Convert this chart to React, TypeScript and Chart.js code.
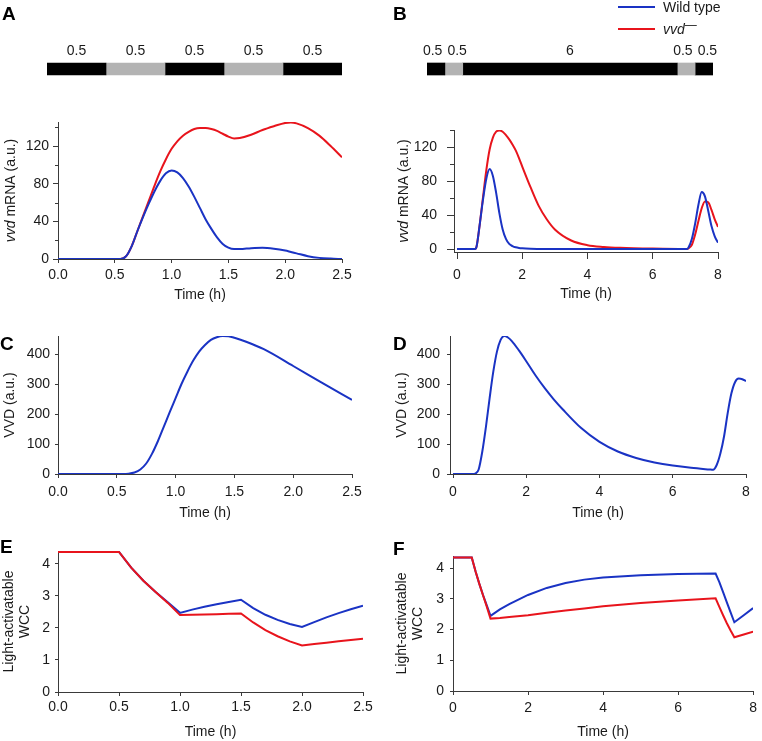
import React, { useEffect, useRef } from 'react';
import { Chart, registerables } from 'chart.js';

Chart.register(...registerables);

const FONT_FAMILY = '"Liberation Sans", Arial, Helvetica, sans-serif';
const BLUE = '#1a33c4';
const RED = '#e8141c';
const AXIS = '#3a3a3a';
const TEXT = '#1a1a1a';
const DARK = '#000000';
const LIGHT = '#b3b3b3';

// ---------- legend / labels ----------
const seriesNames = ['Wild type', 'vvd'];
const xTitle = 'Time (h)';
const panelLetters = ['A', 'B', 'C', 'D', 'E', 'F'];

// ---------- light schedules (hours) ----------
const scheduleADurations = [0.5, 0.5, 0.5, 0.5, 0.5];
const scheduleAPhases = ['dark', 'light', 'dark', 'light', 'dark'];
const scheduleBDurations = [0.5, 0.5, 6, 0.5, 0.5];
const scheduleBPhases = ['dark', 'light', 'dark', 'light', 'dark'];

// ---------- tick labels ----------
const xTicksShort = [0, 0.5, 1, 1.5, 2, 2.5];
const xTicksLong = [0, 2, 4, 6, 8];
const yTicksMrna = [0, 40, 80, 120];
const yMinorMrna = [20, 60, 100, 140];
const yTicksVvd = [0, 100, 200, 300, 400];
const yTicksWcc = [0, 1, 2, 3, 4];

// ---------- Panel A: vvd mRNA, 0.5 h pulses ----------
const timeA = [0, 0.5, 0.55, 0.6, 0.65, 0.7, 0.75, 0.8, 0.85, 0.9, 0.95, 1.0, 1.05, 1.1, 1.15, 1.2, 1.25, 1.3, 1.35, 1.4, 1.45, 1.5, 1.55, 1.6, 1.7, 1.8, 1.9, 2.0, 2.05, 2.1, 2.2, 2.3, 2.4, 2.5];
const mrnaWtA = [0, 0, 0, 3, 14, 30, 45, 59, 72, 83, 91, 94, 92, 86, 77, 66, 54, 42, 32, 23, 16, 12, 10.5, 10.5, 11.5, 12, 11, 9, 7.5, 6, 3, 1.2, 0.4, 0];
const mrnaVvdA = [0, 0, 0, 3, 14, 30, 46, 62, 78, 93, 106, 117, 125, 131, 135, 138, 139, 139, 138, 136, 133, 130, 128, 128.5, 132, 137, 141, 144.5, 145, 144, 139, 131, 120, 108];

// ---------- Panel B: vvd mRNA, long dark ----------
const timeB = [0, 0.5, 0.55, 0.6, 0.7, 0.8, 0.9, 1.0, 1.1, 1.2, 1.3, 1.4, 1.5, 1.6, 1.7, 1.8, 1.9, 2.0, 2.25, 2.5, 2.75, 3.0, 3.5, 4.0, 4.5, 5.0, 6.0, 7.0, 7.05, 7.1, 7.2, 7.3, 7.4, 7.5, 7.6, 7.7, 7.8, 7.9, 8.0];
const mrnaWtB = [0, 0, 0, 3, 30, 59, 83, 94, 86, 66, 42, 23, 12, 6, 3.5, 2, 1.2, 0.8, 0.3, 0.1, 0, 0, 0, 0, 0, 0, 0, 0, 0, 2, 12, 30, 52, 67, 62, 45, 27, 15, 7.5];
const mrnaVvdB = [0, 0, 0, 3, 30, 62, 93, 117, 131, 138, 139.5, 138, 134, 129, 123, 116, 107, 97, 73, 51, 35, 23, 10, 4.5, 2.5, 1.5, 0.5, 0, 0, 1, 5, 17, 33, 48, 56, 55, 46, 35, 26];

// ---------- Panel C: VVD protein ----------
const timeC = [0, 0.5, 0.55, 0.6, 0.65, 0.7, 0.75, 0.8, 0.85, 0.9, 0.95, 1.0, 1.05, 1.1, 1.15, 1.2, 1.25, 1.3, 1.35, 1.4, 1.45, 1.5, 1.6, 1.75, 2.0, 2.25, 2.5];
const vvdC = [0, 0, 0, 1, 5, 15, 35, 68, 110, 158, 206, 253, 300, 341, 378, 408, 430, 447, 456, 460, 459, 454, 441, 416, 360, 303, 247];

// ---------- Panel D: VVD protein ----------
const timeD = [0, 0.5, 0.55, 0.6, 0.7, 0.8, 0.9, 1.0, 1.1, 1.2, 1.3, 1.4, 1.5, 1.6, 1.8, 2.0, 2.25, 2.5, 2.75, 3.0, 3.5, 4.0, 4.5, 5.0, 5.5, 6.0, 6.5, 7.0, 7.1, 7.2, 7.3, 7.4, 7.5, 7.6, 7.7, 7.8, 7.9, 8.0];
const vvdD = [0, 0, 0, 1, 15, 75, 158, 253, 341, 408, 447, 460, 455, 444, 412, 376, 329, 287, 249, 215, 153, 107, 75, 53.5, 38.5, 28, 20.5, 15, 14, 30, 68, 125, 203, 268, 306, 318, 316, 310];

// ---------- Panel E: light-activatable WCC ----------
const timeE = [0, 0.5, 0.6, 0.7, 0.8, 0.9, 1.0, 1.1, 1.2, 1.3, 1.4, 1.5, 1.6, 1.7, 1.8, 1.9, 2.0, 2.1, 2.2, 2.3, 2.4, 2.5];
const wccWtE = [4.37, 4.37, 3.88, 3.47, 3.12, 2.8, 2.47, 2.57, 2.66, 2.74, 2.81, 2.88, 2.62, 2.41, 2.25, 2.12, 2.03, 2.18, 2.33, 2.46, 2.58, 2.69];
const wccVvdE = [4.37, 4.37, 3.88, 3.47, 3.12, 2.78, 2.4, 2.41, 2.42, 2.43, 2.44, 2.45, 2.17, 1.93, 1.74, 1.58, 1.45, 1.5, 1.54, 1.58, 1.62, 1.66];

// ---------- Panel F: light-activatable WCC ----------
const timeF = [0, 0.5, 0.6, 0.7, 0.8, 0.9, 1.0, 1.25, 1.5, 2.0, 2.5, 3.0, 3.5, 4.0, 5.0, 6.0, 7.0, 7.1, 7.2, 7.3, 7.4, 7.5, 7.75, 8.0];
const wccWtF = [4.35, 4.35, 3.9, 3.5, 3.13, 2.79, 2.45, 2.66, 2.83, 3.13, 3.36, 3.52, 3.63, 3.7, 3.77, 3.81, 3.83, 3.55, 3.22, 2.89, 2.56, 2.24, 2.47, 2.7];
const wccVvdF = [4.35, 4.35, 3.9, 3.5, 3.12, 2.75, 2.36, 2.38, 2.41, 2.47, 2.55, 2.62, 2.69, 2.76, 2.87, 2.95, 3.02, 2.74, 2.47, 2.21, 1.97, 1.75, 1.84, 1.93];

// ---------- helpers ----------
type Seg = { text: string; italic?: boolean; sup?: boolean };
type Rect = { left: number; top: number; width: number; height: number };

function fontStr(size: number, italic = false, bold = false) {
  return `${italic ? 'italic ' : ''}${bold ? 'bold ' : ''}${size}px ${FONT_FAMILY}`;
}

function drawRich(ctx: CanvasRenderingContext2D, segs: Seg[], x: number, y: number, size: number, align: 'left' | 'center') {
  let total = 0;
  for (const s of segs) {
    ctx.font = fontStr(s.sup ? size - 2 : size, !!s.italic);
    total += ctx.measureText(s.text).width;
  }
  let cx = align === 'center' ? x - total / 2 : x;
  ctx.textAlign = 'left';
  for (const s of segs) {
    ctx.font = fontStr(s.sup ? size - 2 : size, !!s.italic);
    ctx.fillText(s.text, cx, y + (s.sup ? -4 : 0));
    cx += ctx.measureText(s.text).width;
  }
}

const mrnaTitle: Seg[][] = [[{ text: seriesNames[1], italic: true }, { text: ' mRNA (a.u.)' }]];
const vvdTitle: Seg[][] = [[{ text: 'VVD (a.u.)' }]];
const wccTitle: Seg[][] = [[{ text: 'Light-activatable' }], [{ text: 'WCC' }]];

interface PanelSpec {
  rect: Rect;
  area: { l: number; t: number; r: number; b: number };
  xRange: [number, number];
  yRange: [number, number];
  xTicks: number[];
  yTicks: number[];
  yMinor?: number[];
  yMinorLen?: number;
  xDecimals: number;
  series: { x: number[]; y: number[]; color: string }[];
  smooth: boolean;
  yTitle: Seg[][];
  yTitleOffsets: number[];
  xTitleOffset: number;
  letter: { text: string; x: number; y: number };
  xTick: { len: number; pad: number };
  yTick: { len: number; pad: number };
}

function lineConfig(p: PanelSpec): any {
  const yAxisW = p.area.l - p.rect.left;
  const padTop = p.area.t - p.rect.top;
  const padRight = p.rect.left + p.rect.width - p.area.r;
  const xAxisH = p.rect.top + p.rect.height - p.area.b;
  const decor = {
    id: 'decor',
    afterDraw(chart: any) {
      const ctx: CanvasRenderingContext2D = chart.ctx;
      const ca = chart.chartArea;
      ctx.save();
      if (p.yMinor) {
        ctx.strokeStyle = AXIS;
        ctx.lineWidth = 1;
        ctx.beginPath();
        for (const v of p.yMinor) {
          const y = Math.round(chart.scales.y.getPixelForValue(v)) + 0.5;
          ctx.moveTo(ca.left - (p.yMinorLen || 3), y);
          ctx.lineTo(ca.left, y);
        }
        ctx.stroke();
      }
      ctx.fillStyle = TEXT;
      ctx.textBaseline = 'middle';
      const cy = (ca.top + ca.bottom) / 2;
      p.yTitle.forEach((line, i) => {
        ctx.save();
        ctx.translate(ca.left - p.yTitleOffsets[i], cy);
        ctx.rotate(-Math.PI / 2);
        drawRich(ctx, line, 0, 0, 14, 'center');
        ctx.restore();
      });
      ctx.font = fontStr(14);
      ctx.textAlign = 'center';
      ctx.fillText(xTitle, (ca.left + ca.right) / 2, ca.bottom + p.xTitleOffset);
      ctx.font = fontStr(19, false, true);
      ctx.textAlign = 'left';
      ctx.textBaseline = 'alphabetic';
      ctx.fillStyle = '#000';
      ctx.fillText(p.letter.text, p.letter.x - p.rect.left, p.letter.y - p.rect.top);
      ctx.restore();
    },
  };
  return {
    type: 'line',
    data: {
      datasets: p.series.map((s) => ({
        data: s.x.map((x, i) => ({ x, y: s.y[i] })),
        borderColor: s.color,
        borderWidth: 2,
        pointRadius: 0,
        fill: false,
        tension: 0,
        cubicInterpolationMode: p.smooth ? 'monotone' : 'default',
      })),
    },
    options: {
      responsive: false,
      animation: false,
      devicePixelRatio: 1,
      events: [],
      layout: { padding: { left: 0, top: padTop, right: padRight, bottom: 0 } },
      plugins: { legend: { display: false }, tooltip: { enabled: false } },
      scales: {
        x: {
          type: 'linear',
          min: p.xRange[0],
          max: p.xRange[1],
          afterBuildTicks: (s: any) => {
            s.ticks = p.xTicks.map((v) => ({ value: v }));
          },
          afterFit: (s: any) => {
            s.height = xAxisH;
          },
          ticks: {
            callback: (v: any) => Number(v).toFixed(p.xDecimals),
            font: { family: FONT_FAMILY, size: 14 },
            color: TEXT,
            padding: p.xTick.pad,
            maxRotation: 0,
            autoSkip: false,
          },
          grid: { drawOnChartArea: false, drawTicks: true, tickLength: p.xTick.len, tickColor: AXIS, color: AXIS },
          border: { display: true, color: AXIS, width: 1 },
        },
        y: {
          type: 'linear',
          min: p.yRange[0],
          max: p.yRange[1],
          afterBuildTicks: (s: any) => {
            s.ticks = p.yTicks.map((v) => ({ value: v }));
          },
          afterFit: (s: any) => {
            s.width = yAxisW;
          },
          ticks: {
            callback: (v: any) => String(v),
            font: { family: FONT_FAMILY, size: 14 },
            color: TEXT,
            padding: p.yTick.pad,
            autoSkip: false,
          },
          grid: { drawOnChartArea: false, drawTicks: true, tickLength: p.yTick.len, tickColor: AXIS, color: AXIS },
          border: { display: true, color: AXIS, width: 1 },
        },
      },
    },
    plugins: [decor],
  };
}

interface BarSpec {
  rect: Rect;
  area: { l: number; r: number; top: number; bottom: number };
  durations: number[];
  phases: string[];
  letter?: { text: string; x: number; y: number };
  legend?: { x1: number; x2: number; textX: number; ys: number[] };
}

function barConfig(p: BarSpec): any {
  const total = p.durations.reduce((a, b) => a + b, 0);
  const decor = {
    id: 'barDecor',
    afterDraw(chart: any) {
      const ctx: CanvasRenderingContext2D = chart.ctx;
      ctx.save();
      ctx.fillStyle = TEXT;
      ctx.font = fontStr(14);
      ctx.textBaseline = 'middle';
      ctx.textAlign = 'center';
      const items = p.durations.map((d, i) => {
        const el = chart.getDatasetMeta(i).data[0];
        const props = el.getProps(['x', 'base', 'y'], true);
        const label = String(d);
        return { label, c: (props.x + props.base) / 2, y: props.y, w: ctx.measureText(label).width };
      });
      for (let i = 0; i < items.length - 1; i++) {
        const a = items[i];
        const b = items[i + 1];
        const need = (a.w + b.w) / 2 + 5;
        const gap = b.c - a.c;
        if (gap < need) {
          const d = (need - gap) / 2;
          a.c -= d;
          b.c += d;
        }
      }
      for (const it of items) ctx.fillText(it.label, it.c, it.y - 18);
      if (p.letter) {
        ctx.fillStyle = '#000';
        ctx.font = fontStr(19, false, true);
        ctx.textAlign = 'left';
        ctx.textBaseline = 'alphabetic';
        ctx.fillText(p.letter.text, p.letter.x - p.rect.left, p.letter.y - p.rect.top);
      }
      if (p.legend) {
        const lg = p.legend;
        const colors = [BLUE, RED];
        const labels: Seg[][] = [[{ text: seriesNames[0] }], [{ text: seriesNames[1], italic: true }, { text: '—', sup: true }]];
        labels.forEach((segs, i) => {
          const y = lg.ys[i] - p.rect.top;
          ctx.strokeStyle = colors[i];
          ctx.lineWidth = 2;
          ctx.beginPath();
          ctx.moveTo(lg.x1 - p.rect.left, y);
          ctx.lineTo(lg.x2 - p.rect.left, y);
          ctx.stroke();
          ctx.fillStyle = TEXT;
          ctx.textBaseline = 'middle';
          drawRich(ctx, segs, lg.textX - p.rect.left, y + 1, 14, 'left');
        });
      }
      ctx.restore();
    },
  };
  return {
    type: 'bar',
    data: {
      labels: [''],
      datasets: p.durations.map((d, i) => ({
        data: [d],
        backgroundColor: p.phases[i] === 'dark' ? DARK : LIGHT,
        borderWidth: 0,
        barThickness: 12,
      })),
    },
    options: {
      indexAxis: 'y',
      responsive: false,
      animation: false,
      devicePixelRatio: 1,
      events: [],
      layout: {
        padding: {
          left: p.area.l - p.rect.left,
          right: p.rect.left + p.rect.width - p.area.r,
          top: p.area.top - p.rect.top,
          bottom: p.rect.top + p.rect.height - p.area.bottom,
        },
      },
      plugins: { legend: { display: false }, tooltip: { enabled: false } },
      scales: {
        x: { stacked: true, display: false, min: 0, max: total },
        y: { stacked: true, display: false },
      },
    },
    plugins: [decor],
  };
}

function ChartCanvas({ rect, config }: { rect: Rect; config: () => any }) {
  const ref = useRef<HTMLCanvasElement>(null);
  useEffect(() => {
    const chart = new Chart(ref.current as HTMLCanvasElement, config());
    return () => chart.destroy();
  }, []);
  return (
    <canvas
      ref={ref}
      width={rect.width}
      height={rect.height}
      style={{ position: 'absolute', left: rect.left, top: rect.top, width: rect.width, height: rect.height, display: 'block' }}
    />
  );
}

const barA: BarSpec = {
  rect: { left: 0, top: 0, width: 380, height: 100 },
  area: { l: 47, r: 342, top: 57, bottom: 81 },
  durations: scheduleADurations,
  phases: scheduleAPhases,
  letter: { text: panelLetters[0], x: 2, y: 20 },
};
const barB: BarSpec = {
  rect: { left: 380, top: 0, width: 382, height: 100 },
  area: { l: 427, r: 713, top: 57, bottom: 81 },
  durations: scheduleBDurations,
  phases: scheduleBPhases,
  letter: { text: panelLetters[1], x: 393, y: 20 },
  legend: { x1: 618, x2: 655, textX: 663, ys: [7, 29] },
};

const panels: PanelSpec[] = [
  {
    rect: { left: 0, top: 100, width: 380, height: 210 },
    area: { l: 58, t: 122, r: 342, b: 259 },
    xRange: [0, 2.5], yRange: [0, 145.5],
    xTicks: xTicksShort, yTicks: yTicksMrna, yMinor: yMinorMrna, yMinorLen: 3,
    xDecimals: 1,
    series: [{ x: timeA, y: mrnaWtA, color: BLUE }, { x: timeA, y: mrnaVvdA, color: RED }],
    smooth: true,
    yTitle: mrnaTitle, yTitleOffsets: [47], xTitleOffset: 36,
    letter: { text: '', x: 0, y: 0 },
    xTick: { len: 4, pad: 4 }, yTick: { len: 5, pad: 4 },
  },
  {
    rect: { left: 380, top: 100, width: 382, height: 210 },
    area: { l: 454, t: 130, r: 718, b: 252 },
    xRange: [-0.092, 8], yRange: [-3.5, 140],
    xTicks: xTicksLong, yTicks: yTicksMrna, yMinor: yMinorMrna, yMinorLen: 4,
    xDecimals: 0,
    series: [{ x: timeB, y: mrnaWtB, color: BLUE }, { x: timeB, y: mrnaVvdB, color: RED }],
    smooth: true,
    yTitle: mrnaTitle, yTitleOffsets: [50], xTitleOffset: 42,
    letter: { text: '', x: 0, y: 0 },
    xTick: { len: 7, pad: 8 }, yTick: { len: 7, pad: 10 },
  },
  {
    rect: { left: 0, top: 310, width: 380, height: 215 },
    area: { l: 58, t: 336, r: 352, b: 474 },
    xRange: [0, 2.5], yRange: [0, 460],
    xTicks: xTicksShort, yTicks: yTicksVvd,
    xDecimals: 1,
    series: [{ x: timeC, y: vvdC, color: BLUE }],
    smooth: true,
    yTitle: vvdTitle, yTitleOffsets: [48], xTitleOffset: 39,
    letter: { text: panelLetters[2], x: 0, y: 350 },
    xTick: { len: 4, pad: 6 }, yTick: { len: 3, pad: 5 },
  },
  {
    rect: { left: 380, top: 310, width: 382, height: 215 },
    area: { l: 450, t: 336, r: 746, b: 474 },
    xRange: [-0.082, 8], yRange: [0, 460],
    xTicks: xTicksLong, yTicks: yTicksVvd,
    xDecimals: 0,
    series: [{ x: timeD, y: vvdD, color: BLUE }],
    smooth: true,
    yTitle: vvdTitle, yTitleOffsets: [48], xTitleOffset: 39,
    letter: { text: panelLetters[3], x: 393, y: 350 },
    xTick: { len: 4, pad: 6 }, yTick: { len: 3, pad: 7 },
  },
  {
    rect: { left: 0, top: 525, width: 380, height: 216 },
    area: { l: 58, t: 551, r: 363, b: 692 },
    xRange: [0, 2.5], yRange: [0, 4.4],
    xTicks: xTicksShort, yTicks: yTicksWcc,
    xDecimals: 1,
    series: [{ x: timeE, y: wccVvdE, color: RED }, { x: timeE, y: wccWtE, color: BLUE }],
    smooth: false,
    yTitle: wccTitle, yTitleOffsets: [49, 33], xTitleOffset: 40,
    letter: { text: panelLetters[4], x: 0, y: 553 },
    xTick: { len: 4, pad: 3 }, yTick: { len: 3, pad: 5 },
  },
  {
    rect: { left: 380, top: 525, width: 382, height: 216 },
    area: { l: 453, t: 556, r: 758, b: 691 },
    xRange: [0, 8], yRange: [0, 4.4],
    xTicks: xTicksLong, yTicks: yTicksWcc,
    xDecimals: 0,
    series: [{ x: timeF, y: wccVvdF, color: RED }, { x: timeF, y: wccWtF, color: BLUE }],
    smooth: false,
    yTitle: wccTitle, yTitleOffsets: [51, 35], xTitleOffset: 41,
    letter: { text: panelLetters[5], x: 393, y: 555 },
    xTick: { len: 4, pad: 5 }, yTick: { len: 3, pad: 6 },
  },
];

export default function App() {
  return (
    <div style={{ position: 'absolute', left: 0, top: 0, width: 762, height: 741, background: '#ffffff', overflow: 'hidden' }}>
      <ChartCanvas rect={barA.rect} config={() => barConfig(barA)} />
      <ChartCanvas rect={barB.rect} config={() => barConfig(barB)} />
      {panels.map((p, i) => (
        <ChartCanvas key={i} rect={p.rect} config={() => lineConfig(p)} />
      ))}
    </div>
  );
}
